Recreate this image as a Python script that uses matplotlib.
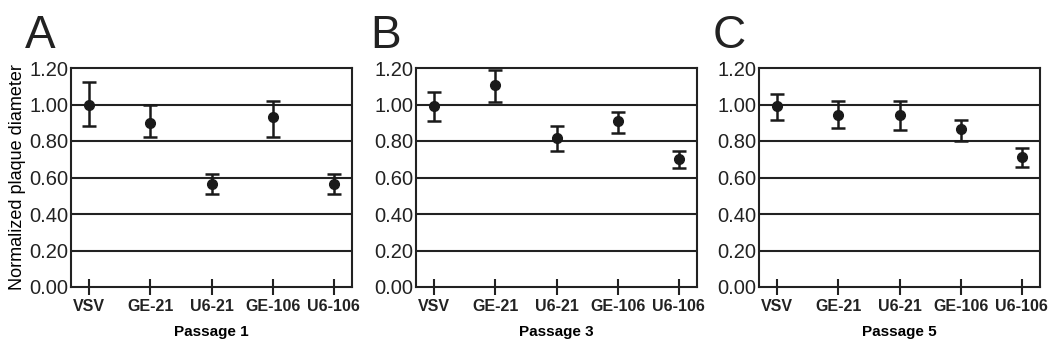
import numpy as np
import matplotlib.pyplot as plt

plt.rcParams['font.family'] = ['Liberation Sans', 'DejaVu Sans']

strains = ['VSV', 'GE-21', 'U6-21', 'GE-106', 'U6-106']
panels = ['A', 'B', 'C']
passages = ['Passage 1', 'Passage 3', 'Passage 5']

# mean, upper end and lower end of the error bars
mean_p1 = [1.00, 0.90, 0.565, 0.93, 0.565]
upper_p1 = [1.125, 1.00, 0.62, 1.02, 0.62]
lower_p1 = [0.88, 0.82, 0.51, 0.82, 0.51]

mean_p3 = [0.99, 1.105, 0.815, 0.91, 0.70]
upper_p3 = [1.07, 1.19, 0.88, 0.96, 0.745]
lower_p3 = [0.91, 1.015, 0.745, 0.845, 0.65]

mean_p5 = [0.99, 0.945, 0.945, 0.865, 0.715]
upper_p5 = [1.06, 1.02, 1.02, 0.915, 0.76]
lower_p5 = [0.915, 0.87, 0.86, 0.80, 0.655]

means = [mean_p1, mean_p3, mean_p5]
uppers = [upper_p1, upper_p3, upper_p5]
lowers = [lower_p1, lower_p3, lower_p5]

yticks = [0.0, 0.2, 0.4, 0.6, 0.8, 1.0, 1.2]

W, H = 1050, 347
fig = plt.figure(figsize=(W/100, H/100), dpi=100)

lefts = [71, 416, 759]
ax_w = 281
top, bottom = 68, 287

for i in range(3):
    ax = fig.add_axes([lefts[i]/W, 1 - bottom/H, ax_w/W, (bottom - top)/H])
    x = np.arange(len(strains))
    m = np.array(means[i])
    err = [m - np.array(lowers[i]), np.array(uppers[i]) - m]
    for yv in yticks[1:-1]:
        ax.axhline(yv, color='#222222', lw=1.5, zorder=1)
    ax.errorbar(x, m, yerr=err, fmt='o', color='#1a1a1a', ms=7,
                elinewidth=1.8, capsize=5, capthick=1.8, zorder=3)
    ax.set_xlim(-0.3, 4.3)
    ax.set_ylim(0, 1.2)
    ax.set_xticks(x)
    ax.set_xticklabels(strains, fontweight='bold', fontsize=11.5)
    ax.set_yticks(yticks)
    ax.set_yticklabels(['%.2f' % v for v in yticks], fontsize=14.5)
    ax.tick_params(axis='x', direction='inout', length=11, width=1.5, pad=3, colors='#222222')
    ax.tick_params(axis='y', length=0, pad=2, colors='#222222')
    for sp in ax.spines.values():
        sp.set_linewidth(1.5)
        sp.set_color('#222222')
    ax.set_xlabel(passages[i], fontweight='bold', fontsize=11, labelpad=8)
    if i == 0:
        ax.set_ylabel('Normalized plaque diameter', fontsize=13, labelpad=2)
    fig.text((lefts[i] - 46)/W, 1 - 48/H, panels[i], fontsize=33, color='#222222')

fig.savefig('out.png', dpi=100)
